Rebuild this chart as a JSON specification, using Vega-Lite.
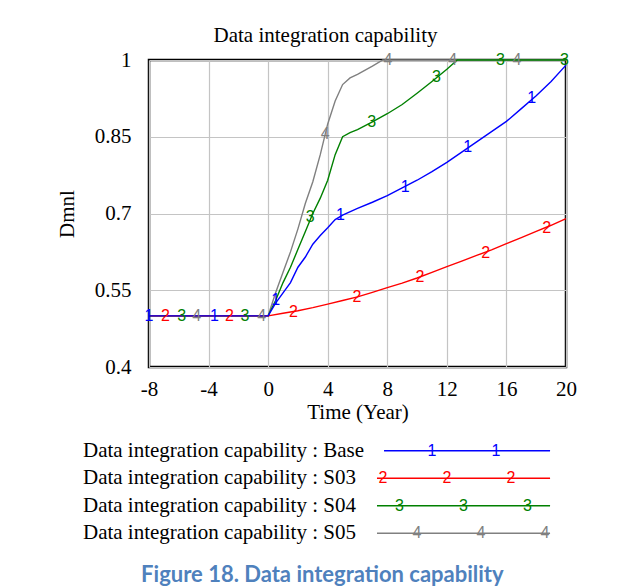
{
  "$schema": "https://vega.github.io/schema/vega-lite/v6.json",
  "padding": {"left": 55, "top": 23, "right": 5, "bottom": 0},
  "background": "white",
  "bounds": "flush",
  "spacing": 70,
  "title": {"text": "Figure 18. Data integration capability", "orient": "bottom", "anchor": "middle", "font": "Lato", "fontWeight": "bold", "fontSize": 22, "color": "#4F81BD", "offset": 18, "dx": 6},
  "datasets": {
    "series": [
      {"s": "S05", "t": -8, "v": 0.5}, {"s": "S05", "t": 0, "v": 0.5}, {"s": "S05", "t": 0.5, "v": 0.545}, {"s": "S05", "t": 1, "v": 0.585}, {"s": "S05", "t": 1.5, "v": 0.625}, {"s": "S05", "t": 2, "v": 0.67}, {"s": "S05", "t": 2.5, "v": 0.72}, {"s": "S05", "t": 3, "v": 0.762}, {"s": "S05", "t": 3.5, "v": 0.815}, {"s": "S05", "t": 4, "v": 0.875}, {"s": "S05", "t": 4.5, "v": 0.92}, {"s": "S05", "t": 5, "v": 0.952}, {"s": "S05", "t": 5.5, "v": 0.965}, {"s": "S05", "t": 6, "v": 0.972}, {"s": "S05", "t": 7, "v": 0.988}, {"s": "S05", "t": 7.7, "v": 1.0}, {"s": "S05", "t": 20, "v": 1.0},
      {"s": "S04", "t": -8, "v": 0.5}, {"s": "S04", "t": 0, "v": 0.5}, {"s": "S04", "t": 0.5, "v": 0.53}, {"s": "S04", "t": 1, "v": 0.565}, {"s": "S04", "t": 1.5, "v": 0.595}, {"s": "S04", "t": 2, "v": 0.63}, {"s": "S04", "t": 2.5, "v": 0.665}, {"s": "S04", "t": 3, "v": 0.7}, {"s": "S04", "t": 3.5, "v": 0.73}, {"s": "S04", "t": 4, "v": 0.765}, {"s": "S04", "t": 4.5, "v": 0.815}, {"s": "S04", "t": 5, "v": 0.85}, {"s": "S04", "t": 5.5, "v": 0.858}, {"s": "S04", "t": 6, "v": 0.864}, {"s": "S04", "t": 7, "v": 0.879}, {"s": "S04", "t": 8, "v": 0.895}, {"s": "S04", "t": 9, "v": 0.913}, {"s": "S04", "t": 10, "v": 0.935}, {"s": "S04", "t": 11, "v": 0.958}, {"s": "S04", "t": 12, "v": 0.982}, {"s": "S04", "t": 12.7, "v": 1.0}, {"s": "S04", "t": 20, "v": 1.0},
      {"s": "S03", "t": -8, "v": 0.5}, {"s": "S03", "t": 0, "v": 0.5}, {"s": "S03", "t": 1, "v": 0.505}, {"s": "S03", "t": 2, "v": 0.51}, {"s": "S03", "t": 3, "v": 0.516}, {"s": "S03", "t": 4, "v": 0.523}, {"s": "S03", "t": 5, "v": 0.53}, {"s": "S03", "t": 6, "v": 0.537}, {"s": "S03", "t": 7, "v": 0.546}, {"s": "S03", "t": 8, "v": 0.555}, {"s": "S03", "t": 9, "v": 0.564}, {"s": "S03", "t": 10, "v": 0.574}, {"s": "S03", "t": 11, "v": 0.585}, {"s": "S03", "t": 12, "v": 0.596}, {"s": "S03", "t": 13, "v": 0.607}, {"s": "S03", "t": 14, "v": 0.618}, {"s": "S03", "t": 15, "v": 0.629}, {"s": "S03", "t": 16, "v": 0.641}, {"s": "S03", "t": 17, "v": 0.653}, {"s": "S03", "t": 18, "v": 0.665}, {"s": "S03", "t": 19, "v": 0.677}, {"s": "S03", "t": 20, "v": 0.69},
      {"s": "Base", "t": -8, "v": 0.5}, {"s": "Base", "t": 0, "v": 0.5}, {"s": "Base", "t": 0.5, "v": 0.525}, {"s": "Base", "t": 1, "v": 0.545}, {"s": "Base", "t": 1.5, "v": 0.565}, {"s": "Base", "t": 2, "v": 0.595}, {"s": "Base", "t": 2.5, "v": 0.615}, {"s": "Base", "t": 3, "v": 0.64}, {"s": "Base", "t": 3.5, "v": 0.657}, {"s": "Base", "t": 4, "v": 0.672}, {"s": "Base", "t": 4.5, "v": 0.688}, {"s": "Base", "t": 5, "v": 0.697}, {"s": "Base", "t": 6, "v": 0.71}, {"s": "Base", "t": 7, "v": 0.722}, {"s": "Base", "t": 8, "v": 0.735}, {"s": "Base", "t": 9, "v": 0.75}, {"s": "Base", "t": 10, "v": 0.765}, {"s": "Base", "t": 11, "v": 0.782}, {"s": "Base", "t": 12, "v": 0.8}, {"s": "Base", "t": 13, "v": 0.82}, {"s": "Base", "t": 14, "v": 0.84}, {"s": "Base", "t": 15, "v": 0.86}, {"s": "Base", "t": 16, "v": 0.88}, {"s": "Base", "t": 17, "v": 0.905}, {"s": "Base", "t": 18, "v": 0.93}, {"s": "Base", "t": 19, "v": 0.958}, {"s": "Base", "t": 20, "v": 0.99}
    ],
    "markers": [
      {"s": "S05", "num": "4", "t": -4.8, "v": 0.5}, {"s": "S05", "num": "4", "t": -0.44, "v": 0.5}, {"s": "S05", "num": "4", "t": 3.83, "v": 0.855}, {"s": "S05", "num": "4", "t": 8.05, "v": 1.0}, {"s": "S05", "num": "4", "t": 12.4, "v": 1.0}, {"s": "S05", "num": "4", "t": 16.7, "v": 1.0},
      {"s": "S04", "num": "3", "t": -5.8, "v": 0.5}, {"s": "S04", "num": "3", "t": -1.55, "v": 0.5}, {"s": "S04", "num": "3", "t": 2.83, "v": 0.694}, {"s": "S04", "num": "3", "t": 6.95, "v": 0.879}, {"s": "S04", "num": "3", "t": 11.3, "v": 0.967}, {"s": "S04", "num": "3", "t": 15.6, "v": 1.0}, {"s": "S04", "num": "3", "t": 19.9, "v": 1.0},
      {"s": "S03", "num": "2", "t": -6.9, "v": 0.5}, {"s": "S03", "num": "2", "t": -2.6, "v": 0.5}, {"s": "S03", "num": "2", "t": 1.7, "v": 0.508}, {"s": "S03", "num": "2", "t": 5.96, "v": 0.537}, {"s": "S03", "num": "2", "t": 10.2, "v": 0.576}, {"s": "S03", "num": "2", "t": 14.6, "v": 0.622}, {"s": "S03", "num": "2", "t": 18.7, "v": 0.671},
      {"s": "Base", "num": "1", "t": -8, "v": 0.5}, {"s": "Base", "num": "1", "t": -3.6, "v": 0.5}, {"s": "Base", "num": "1", "t": 0.5, "v": 0.531}, {"s": "Base", "num": "1", "t": 4.85, "v": 0.697}, {"s": "Base", "num": "1", "t": 9.2, "v": 0.752}, {"s": "Base", "num": "1", "t": 13.4, "v": 0.83}, {"s": "Base", "num": "1", "t": 17.7, "v": 0.925}
    ],
    "legendNames": [
      {"s": "Base", "name": "Data integration capability : Base"},
      {"s": "S03", "name": "Data integration capability : S03"},
      {"s": "S04", "name": "Data integration capability : S04"},
      {"s": "S05", "name": "Data integration capability : S05"}
    ],
    "legendMarks": [
      {"s": "Base", "num": "1", "n": 0}, {"s": "Base", "num": "1", "n": 1},
      {"s": "S03", "num": "2", "n": 0}, {"s": "S03", "num": "2", "n": 1}, {"s": "S03", "num": "2", "n": 2},
      {"s": "S04", "num": "3", "n": 0}, {"s": "S04", "num": "3", "n": 1}, {"s": "S04", "num": "3", "n": 2},
      {"s": "S05", "num": "4", "n": 0}, {"s": "S05", "num": "4", "n": 1}, {"s": "S05", "num": "4", "n": 2}
    ]
  },
  "vconcat": [
    {
      "width": 417,
      "height": 307,
      "title": {"text": "Data integration capability", "font": "Liberation Serif", "fontSize": 21, "fontWeight": "normal", "color": "black", "anchor": "middle", "offset": 3, "dx": -32},
      "view": {"stroke": "black", "strokeWidth": 2.5},
      "layer": [
        {
          "data": {"name": "series"},
          "mark": {"type": "line", "strokeWidth": 1.4},
          "encoding": {
            "x": {"field": "t", "type": "quantitative", "scale": {"domain": [-8, 20], "nice": false, "zero": false},
              "axis": {"values": [-8, -6, -4, -2, 0, 2, 4, 6, 8, 10, 12, 14, 16, 18, 20], "labelExpr": "datum.value % 4 == 0 ? '' + datum.value : ''", "title": "Time (Year)", "grid": true, "gridColor": "#c4c4c4", "gridWidth": 1.2, "ticks": false, "domain": false, "labelFont": "Liberation Serif", "labelFontSize": 21, "labelColor": "black", "labelPadding": 11, "labelFlush": false, "titleFont": "Liberation Serif", "titleFontSize": 21, "titleFontWeight": "normal", "titleColor": "black", "titlePadding": 2}},
            "y": {"field": "v", "type": "quantitative", "scale": {"domain": [0.4, 1], "nice": false, "zero": false},
              "axis": {"values": [0.4, 0.55, 0.7, 0.85, 1], "labelExpr": "'' + datum.value", "title": "Dmnl", "grid": true, "gridColor": "#c4c4c4", "gridWidth": 1.2, "ticks": false, "domain": false, "labelFont": "Liberation Serif", "labelFontSize": 21, "labelColor": "black", "labelPadding": 18, "labelFlush": false, "titleFont": "Liberation Serif", "titleFontSize": 21, "titleFontWeight": "normal", "titleColor": "black", "titlePadding": 17}},
            "color": {"field": "s", "type": "nominal", "scale": {"domain": ["Base", "S03", "S04", "S05"], "range": ["#0000FF", "#FF0000", "#008000", "#808080"]}, "legend": null},
            "detail": {"field": "s"}
          }
        },
        {
          "data": {"name": "markers"},
          "mark": {"type": "text", "font": "Liberation Sans", "fontSize": 16, "baseline": "middle", "align": "center"},
          "encoding": {
            "x": {"field": "t", "type": "quantitative"},
            "y": {"field": "v", "type": "quantitative"},
            "color": {"field": "s", "type": "nominal", "legend": null},
            "text": {"field": "num"}
          }
        }
      ]
    },
    {
      "width": 417,
      "height": 110,
      "view": {"stroke": null},
      "layer": [
        {
          "data": {"name": "legendNames"},
          "mark": {"type": "text", "align": "left", "baseline": "middle", "font": "Liberation Serif", "fontSize": 21, "color": "black"},
          "encoding": {
            "x": {"datum": -4.6875, "type": "quantitative", "scale": {"domain": [-3.656, 2.859], "nice": false, "zero": false}, "axis": null},
            "y": {"field": "s", "type": "nominal", "scale": {"domain": ["Base", "S03", "S04", "S05"]}, "axis": null},
            "text": {"field": "name"}
          }
        },
        {
          "data": {"name": "legendNames"},
          "transform": [{"filter": "datum.s != 'Base'"}],
          "mark": {"type": "rule", "strokeWidth": 1.5},
          "encoding": {
            "x": {"datum": -0.094, "type": "quantitative"},
            "x2": {"datum": 2.61},
            "y": {"field": "s", "type": "nominal"},
            "color": {"field": "s", "type": "nominal", "legend": null}
          }
        },
        {
          "data": {"name": "legendNames"},
          "transform": [{"filter": "datum.s == 'Base'"}],
          "mark": {"type": "rule", "strokeWidth": 1.5},
          "encoding": {
            "x": {"datum": 0.016, "type": "quantitative"},
            "x2": {"datum": 2.61},
            "y": {"field": "s", "type": "nominal"},
            "color": {"field": "s", "type": "nominal", "legend": null}
          }
        },
        {
          "data": {"name": "legendMarks"},
          "transform": [{"filter": "datum.s == 'S03'"}],
          "mark": {"type": "text", "font": "Liberation Sans", "fontSize": 16, "baseline": "middle", "align": "center"},
          "encoding": {
            "x": {"field": "n", "type": "quantitative"},
            "y": {"field": "s", "type": "nominal"},
            "color": {"field": "s", "type": "nominal", "legend": null},
            "text": {"field": "num"}
          }
        },
        {
          "data": {"name": "legendMarks"},
          "transform": [{"filter": "datum.s == 'S04'"}],
          "mark": {"type": "text", "font": "Liberation Sans", "fontSize": 16, "baseline": "middle", "align": "center", "xOffset": 16.5},
          "encoding": {
            "x": {"field": "n", "type": "quantitative"},
            "y": {"field": "s", "type": "nominal"},
            "color": {"field": "s", "type": "nominal", "legend": null},
            "text": {"field": "num"}
          }
        },
        {
          "data": {"name": "legendMarks"},
          "transform": [{"filter": "datum.s == 'S05'"}],
          "mark": {"type": "text", "font": "Liberation Sans", "fontSize": 16, "baseline": "middle", "align": "center", "xOffset": 34},
          "encoding": {
            "x": {"field": "n", "type": "quantitative"},
            "y": {"field": "s", "type": "nominal"},
            "color": {"field": "s", "type": "nominal", "legend": null},
            "text": {"field": "num"}
          }
        },
        {
          "data": {"name": "legendMarks"},
          "transform": [{"filter": "datum.s == 'Base'"}],
          "mark": {"type": "text", "font": "Liberation Sans", "fontSize": 16, "baseline": "middle", "align": "center", "xOffset": 49},
          "encoding": {
            "x": {"field": "n", "type": "quantitative"},
            "y": {"field": "s", "type": "nominal"},
            "color": {"field": "s", "type": "nominal", "legend": null},
            "text": {"field": "num"}
          }
        }
      ]
    }
  ],
  "config": {"view": {"stroke": null}}
}
